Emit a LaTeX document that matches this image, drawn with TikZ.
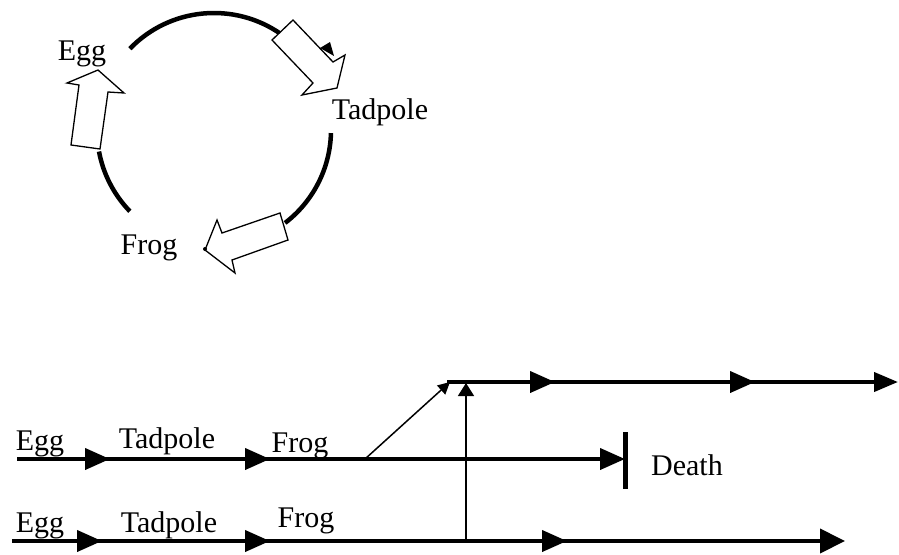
\documentclass[tikz,border=0pt]{standalone}
\usepackage{fontspec}
\setmainfont{Liberation Serif}
\usetikzlibrary{arrows.meta, decorations.markings}
\tikzset{
    stage/.style={font=\fontsize{30}{32}\selectfont, inner sep=0pt, anchor=base},
    cycle arc/.style={line width=4.5pt},
    block arrow/.style={draw=black, fill=white, line width=1.3pt, line join=miter},
    life line/.style={line width=4pt},
    branch/.style={line width=1.5pt},
    tip at/.style={postaction={decorate, decoration={markings,
        mark=at position #1 with {\arrow{Triangle[length=25pt, width=21pt]}}}}}
}

\begin{document}
\begin{tikzpicture}[x=1pt, y=-1pt]

    \useasboundingbox (0,0) rectangle (899,554);

    % Ciclo
    \coordinate (O) at (214,130);
    \draw[cycle arc] (O) ++(-136:117) arc[start angle=-136, end angle=-55, radius=117];
    \draw[cycle arc] (O) ++(1.5:117) arc[start angle=1.5, end angle=52.6, radius=117];
    \draw[cycle arc] (O) ++(136:117) arc[start angle=136, end angle=169.4, radius=117];
    \fill (320,48) -- (330,42) -- (334,56) -- cycle;

    \draw[block arrow] (272,40) -- (293,20) -- (333,62) -- (345,55)
        -- (337,88) -- (302,95) -- (313,83) -- cycle;
    \draw[block arrow] (71,145) -- (100,149) -- (108,92) -- (124,93)
        -- (98,70) -- (67,83) -- (79,85) -- cycle;
    \draw[block arrow] (280,213) -- (222,233) -- (217,220) -- (205,250)
        -- (235,273) -- (232,260) -- (288,240) -- cycle;
    \fill (205,249) circle (2pt);

    \node[stage] (cegg) at (82,60) {Egg};
    \node[stage] (ctad) at (380,119) {Tadpole};
    \node[stage] (cfrog) at (149,254) {Frog};

    % Etiquetas de las lineas
    \node[stage] (egg1) at (40,450) {Egg};
    \node[stage] (tad1) at (167,448) {Tadpole};
    \node[stage] (frog1) at (300,452) {Frog};
    \node[stage] (egg2) at (40,532) {Egg};
    \node[stage] (tad2) at (169,532) {Tadpole};
    \node[stage] (frog2) at (306,527) {Frog};
    \node[stage] (death) at (687,475) {Death};

    \coordinate (t0) at (447,382);
    \coordinate (t1) at (898,382);
    \coordinate (m0) at (17,459);
    \coordinate (m1) at (625,459);
    \coordinate (b0) at (12,541);
    \coordinate (b1) at (845,541);
    \coordinate (d0) at (625,432);
    \coordinate (d1) at (625,489);
    \coordinate (up0) at (466,541);
    \coordinate (up1) at (466,383);
    \coordinate (dg0) at (365,459);
    \coordinate (dg1) at (450,382);

    % Lineas de vida
    \draw[life line, tip at=108pt, tip at=308pt,
        -{Triangle[length=24pt, width=19pt]}] (t0) -- (t1);
    \draw[life line, tip at=93pt, tip at=253pt,
        -{Triangle[length=25pt, width=21pt]}] (m0) -- (m1);
    \draw[life line, tip at=90pt, tip at=258pt, tip at=555pt,
        -{Triangle[length=25pt, width=24pt]}] (b0) -- (b1);
    \draw[line width=5pt] (d0) -- (d1);

    \draw[branch, -{Triangle[length=13pt, width=16pt]}] (up0) -- (up1);
    \draw[branch, -{Triangle[length=12pt, width=12pt]}] (dg0) -- (dg1);

\end{tikzpicture}
\end{document}
